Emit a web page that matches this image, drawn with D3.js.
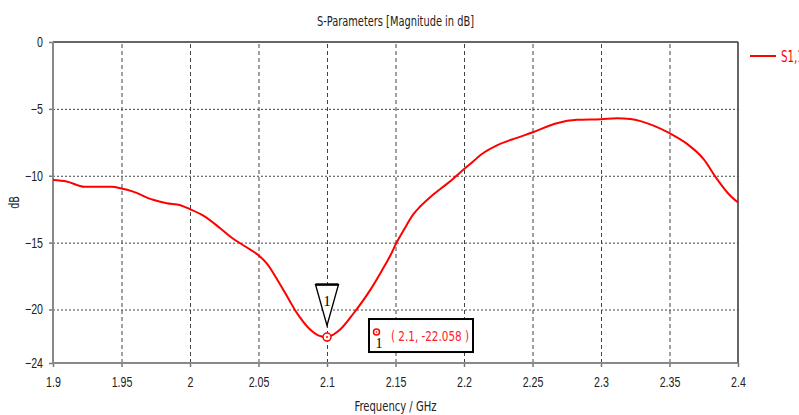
<!DOCTYPE html>
<html lang="en">
<head>
<meta charset="UTF-8">
<title>S-Parameters [Magnitude in dB]</title>
<script src="https://d3js.org/d3.v7.min.js"></script>
<style>
  body { margin: 0; background: #fff; overflow: hidden; }
  svg { display: block; font-family: "DejaVu Sans Condensed", "DejaVu Sans", sans-serif; font-stretch: condensed; }
  .tick text { font-size: 14px; fill: #222; }
  .grid line { stroke: #444; stroke-width: 1; }
  .grid path { display: none; }
</style>
</head>
<body>
<div id="chart"></div>
<script>
// S1,1
const freq = [1.900, 1.910, 1.923, 1.943, 1.950, 1.958, 1.973, 1.983, 1.993, 2.000,
              2.010, 2.022, 2.031, 2.041, 2.050, 2.056, 2.0645, 2.073, 2.0767, 2.080,
              2.0877, 2.094, 2.100, 2.105, 2.1096, 2.1193, 2.1315, 2.140, 2.1473, 2.150,
              2.1558, 2.1631, 2.168, 2.1753, 2.1838, 2.1911, 2.1972, 2.2045, 2.2131, 2.2252,
              2.2386, 2.2503, 2.2678, 2.2824, 2.300, 2.3116, 2.3214, 2.3384, 2.350, 2.3628,
              2.3749, 2.3847, 2.3944, 2.400];
const s11 = [-10.32, -10.43, -10.82, -10.82, -10.95, -11.17, -11.80, -12.05, -12.20, -12.50,
             -13.00, -13.92, -14.67, -15.33, -15.95, -16.55, -17.90, -19.40, -20.05, -20.55,
             -21.50, -21.95, -22.06, -21.85, -21.50, -20.30, -18.55, -17.10, -15.75, -15.15,
             -14.10, -12.87, -12.30, -11.60, -10.90, -10.32, -9.75, -9.12, -8.37, -7.67,
             -7.17, -6.75, -6.07, -5.82, -5.77, -5.70, -5.75, -6.25, -6.82, -7.62,
             -8.75, -10.25, -11.50, -12.00];

const xTicks = [1.9, 1.95, 2, 2.05, 2.1, 2.15, 2.2, 2.25, 2.3, 2.35, 2.4];
const yTicks = [0, -5, -10, -15, -20, -24];
const marker = {f: 2.1, v: -22.058, label: "1"};

const W = 799, H = 415;
const margin = {top: 42, right: 61, bottom: 52, left: 53};
const width = W - margin.left - margin.right,
      height = H - margin.top - margin.bottom;

const svg = d3.select("#chart").append("svg")
  .attr("width", W).attr("height", H);

const g = svg.append("g")
  .attr("transform", `translate(${margin.left},${margin.top})`);

const x = d3.scaleLinear().domain([1.9, 2.4]).range([0, width]);
const y = d3.scaleLinear().domain([-24, 0]).range([height, 0]);

// the original font is narrow: squeeze text horizontally
let squeeze = 1;
function narrow(sel) {
  sel.each(function() {
    const w = this.getComputedTextLength();
    d3.select(this).attr("textLength", w * squeeze).attr("lengthAdjust", "spacingAndGlyphs");
  });
}

// grid
g.append("g").attr("class", "grid")
  .attr("transform", `translate(0,${height})`)
  .call(d3.axisBottom(x).tickValues(xTicks.slice(1, -1)).tickSize(-height).tickFormat(""))
  .selectAll("line").attr("stroke-dasharray", "4,3");

g.append("g").attr("class", "grid")
  .call(d3.axisLeft(y).tickValues(yTicks.slice(1, -1)).tickSize(-width).tickFormat(""))
  .selectAll("line").attr("stroke-dasharray", "2,2");

// frame
g.append("line").attr("x1", 0).attr("x2", width).attr("y1", 0).attr("y2", 0)
  .attr("stroke", "#333").attr("stroke-width", 1.5);
g.append("line").attr("x1", width).attr("x2", width).attr("y1", 0).attr("y2", height)
  .attr("stroke", "#333").attr("stroke-width", 1.5);

// axes
const xAxis = g.append("g")
  .attr("transform", `translate(0,${height})`)
  .call(d3.axisBottom(x).tickValues(xTicks).tickSize(4).tickPadding(10).tickFormat(d3.format("")));
const yAxis = g.append("g")
  .call(d3.axisLeft(y).tickValues(yTicks).tickSize(4).tickPadding(6).tickFormat(d3.format("")));

[xAxis, yAxis].forEach(a => {
  a.select(".domain").remove();
  a.selectAll(".tick line").attr("stroke", "#777").attr("stroke-width", 1.5);
});

// "1.95" is about 20.7px wide in the reference
const ref = xAxis.selectAll(".tick text").filter(d => d === 1.95).node();
squeeze = 20.7 / ref.getComputedTextLength();
narrow(xAxis.selectAll(".tick text"));
narrow(yAxis.selectAll(".tick text"));

g.append("line").attr("x1", 0).attr("x2", 0).attr("y1", 0).attr("y2", height)
  .attr("stroke", "#888").attr("stroke-width", 2);
g.append("line").attr("x1", -1).attr("x2", width).attr("y1", height).attr("y2", height)
  .attr("stroke", "#888").attr("stroke-width", 2);

// curve
const pts = freq.map((f, i) => [f, s11[i]]);
g.append("path")
  .datum(pts)
  .attr("fill", "none")
  .attr("stroke", "#ff0000")
  .attr("stroke-width", 2)
  .attr("d", d3.line().x(d => x(d[0])).y(d => y(d[1])).curve(d3.curveMonotoneX));

// marker
const mx = x(marker.f), my = y(marker.v);
g.append("path")
  .attr("d", `M${mx - 11.5},${my - 52.5}L${mx + 11.5},${my - 52.5}L${mx},${my - 11.5}Z`)
  .attr("fill", "#fff").attr("stroke", "#000").attr("stroke-width", 1.3);
g.append("line")
  .attr("x1", mx - 11.5).attr("x2", mx + 11.5).attr("y1", my - 52.5).attr("y2", my - 52.5)
  .attr("stroke", "#000").attr("stroke-width", 2.5);
g.append("text")
  .attr("x", mx).attr("y", my - 31)
  .attr("text-anchor", "middle")
  .style("font-family", "'Liberation Serif', serif").style("font-size", "15px")
  .attr("fill", "#000").text(marker.label);
g.append("circle").attr("cx", mx).attr("cy", my).attr("r", 4)
  .attr("fill", "#fff").attr("stroke", "#ff0000").attr("stroke-width", 1.5);
g.append("circle").attr("cx", mx).attr("cy", my).attr("r", 1)
  .attr("fill", "#ff0000");

// marker readout box
const bx = mx + 42, by = my - 18;
g.append("rect")
  .attr("x", bx).attr("y", by).attr("width", 104).attr("height", 33)
  .attr("fill", "#fff").attr("stroke", "#000").attr("stroke-width", 2);
g.append("circle").attr("cx", bx + 7.5).attr("cy", by + 13).attr("r", 3)
  .attr("fill", "#fff").attr("stroke", "#ff0000").attr("stroke-width", 1.5);
g.append("circle").attr("cx", bx + 7.5).attr("cy", by + 13).attr("r", 0.8)
  .attr("fill", "#ff0000");
g.append("text")
  .attr("x", bx + 6.5).attr("y", by + 29)
  .style("font-family", "'Liberation Serif', serif").style("font-size", "14px")
  .attr("fill", "#000").text(marker.label);
g.append("text")
  .attr("x", bx + 22).attr("y", by + 22)
  .attr("textLength", 78).attr("lengthAdjust", "spacingAndGlyphs")
  .style("font-size", "14px")
  .attr("fill", "#ff2020")
  .text(`( ${marker.f}, ${marker.v} )`);

// title and labels
svg.append("text")
  .attr("x", margin.left + width / 2).attr("y", 26)
  .attr("text-anchor", "middle")
  .attr("textLength", 157).attr("lengthAdjust", "spacingAndGlyphs")
  .style("font-size", "14px").attr("fill", "#222")
  .text("S-Parameters [Magnitude in dB]");

svg.append("text")
  .attr("x", margin.left + width / 2).attr("y", 411)
  .attr("text-anchor", "middle")
  .attr("textLength", 82).attr("lengthAdjust", "spacingAndGlyphs")
  .style("font-size", "14px").attr("fill", "#222")
  .text("Frequency / GHz");

svg.append("text")
  .attr("transform", `translate(19,${margin.top + height / 2}) rotate(-90)`)
  .attr("text-anchor", "middle")
  .style("font-size", "14px").attr("fill", "#222")
  .text("dB")
  .call(narrow);

// legend
const leg = svg.append("g").attr("transform", `translate(750,56)`);
leg.append("line").attr("x1", 0).attr("x2", 26).attr("y1", 0).attr("y2", 0)
  .attr("stroke", "#ff0000").attr("stroke-width", 2);
leg.append("text").attr("x", 31).attr("y", 6)
  .style("font-size", "15px").attr("fill", "#ff0000")
  .text("S1,1")
  .call(narrow);
</script>
</body>
</html>
